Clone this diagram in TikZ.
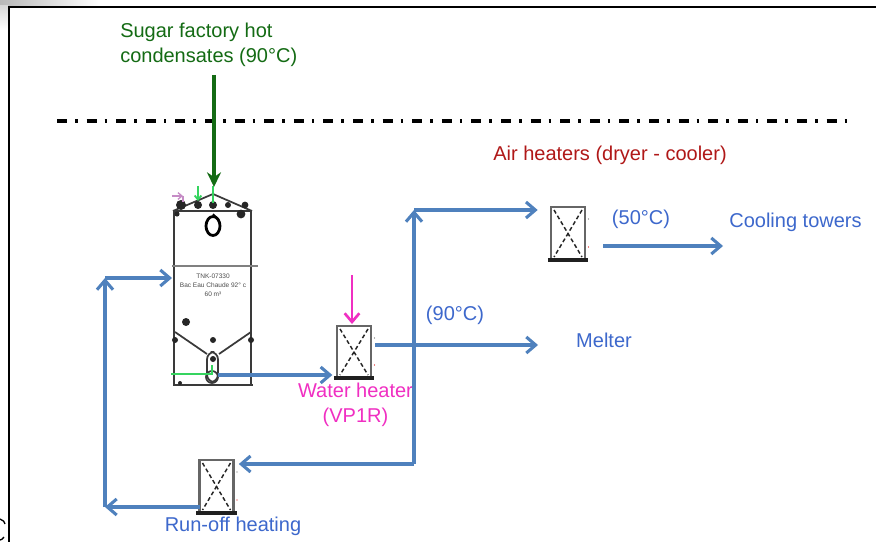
\documentclass[tikz,border=0pt]{standalone}
\usepackage{fontspec}
\setmainfont{Liberation Sans}
\usetikzlibrary{arrows.meta,shapes.geometric}
\definecolor{pipeblue}{HTML}{4F81BD}
\definecolor{txtblue}{HTML}{3D68CC}
\definecolor{hotgreen}{HTML}{146B14}
\definecolor{brightgreen}{HTML}{35D45F}
\definecolor{pinkm}{HTML}{F02FC2}
\definecolor{airred}{HTML}{B01818}
\definecolor{tankgray}{HTML}{3A3A3A}
\tikzset{
  x=0.75pt,y=-0.75pt,
  pipe/.style={draw=pipeblue,line width=2.3pt,-{Straight Barb[length=7pt,width=12pt,line width=2.3pt]}},
  pipeplain/.style={draw=pipeblue,line width=2.3pt},
  xchg/.style={rectangle,draw=gray!80!black,line width=1.9pt,minimum width=25.5pt,inner sep=0pt,outer sep=0pt},
  xcross/.style={draw=gray!30!black,line width=1.1pt,densely dashed},
  xbase/.style={draw=gray!25!black,line width=2.3pt},
  lbl/.style={inner sep=0pt,font=\fontsize{15pt}{18.6pt}\selectfont},
  tinytxt/.style={inner sep=0pt,align=center,text=black!70,font=\fontsize{4.9pt}{6.8pt}\selectfont},
  tankline/.style={draw=tankgray,line width=1.3pt},
  blob/.style={fill=black!85,draw=none},
  frameline/.style={draw=black,line width=1.6pt},
}
\newcommand{\crossin}[1]{%
  \draw[xcross] ([shift={(3,3)}]#1.north west) -- ([shift={(-3,-3)}]#1.south east);
  \draw[xcross] ([shift={(-3,3)}]#1.north east) -- ([shift={(3,-3)}]#1.south west);
  \draw[xbase] ([xshift=-2.4pt]#1.south west) -- ([xshift=2.4pt]#1.south east);
  \fill[black!60] ([shift={(3.5,12)}]#1.north east) circle (.4pt);
  \fill[red!85!black] ([shift={(3.5,-13)}]#1.south east) circle (.45pt);
}
\begin{document}
\begin{tikzpicture}
\useasboundingbox (0,0) rectangle (876,542);
\fill[white] (0,0) rectangle (876,542);
% screen residue
\shade[left color=gray!55,right color=white] (0,0) rectangle (100,6);
\shade[top color=gray!30,bottom color=white] (0,6) rectangle (8,30);
\draw[frameline] (9,542) -- (9,7) -- (876,7);
\draw[black,line width=1pt] (0,519) .. controls (3,520) and (5,522) .. (5,524);
\draw[black,line width=1pt] (4,537) .. controls (3,539) and (1,540) .. (0,540);
% dash-dot boundary
\coordinate (bndl) at (57,121);
\coordinate (bndr) at (848,121);
\draw[black,line width=2.4pt,dash pattern=on 7.5pt off 6pt on 2pt off 6.7pt] (bndl) -- (bndr);
% tank
\node[rectangle,draw=tankgray,line width=1.4pt,minimum width=57.75pt,minimum height=130.5pt,inner sep=0pt,outer sep=0pt] (tank) at (212.5,298) {};
\draw[draw=gray,line width=.9pt] (172,266) -- (258,266);
\draw[tankline] (173,211) -- (213,194) -- (252,211);
\draw[tankline,line width=1.8pt] (173,211) -- (252,211);
\draw[tankline,line width=1.8pt] (173,385) -- (253,385);
\draw[tankline] (175,332) -- (207,354);
\draw[tankline] (251,332) -- (219,354);
\draw[black,line width=2.1pt] (213,226) ellipse (7 and 9.5);
\draw[black,line width=1.1pt] (213,214) -- (219,220);
\draw[tankline,rounded corners=5.5pt] (207,352) rectangle (218,382);
\draw[tankline] (212,377) circle (6);
\fill[blob] (181,205) circle (5);
\foreach \p/\r in {198/4,213/4,228/3,245/3.4}{\fill[blob] (\p,205) circle (\r);}
\fill[blob] (241,214) circle (4.4);
\fill[blob] (177,214) circle (2.6);
\foreach \p/\q in {213/340,175/340,251/340,213/359}{\fill[blob] (\p,\q) circle (3);}
\fill[blob] (186,322) circle (4);
\fill[blob] (180,383) circle (2);
\node[tinytxt] (tanktext) at (213,285.5) {TNK-07330\\Bac Eau Chaude 92° c\\60 m³};
\draw[brightgreen,line width=1.4pt] (171,374) -- (212,374) -- (212,365);
\draw[brightgreen,line width=1.4pt,-{Straight Barb[length=3pt,width=5pt]}] (198,186) -- (198,201);
\draw[brightgreen,line width=1.6pt] (213,186) -- (213,203);
\draw[violet!45!white,line width=1pt,-{Straight Barb[length=3pt,width=5pt]}] (172,196) -- (183,196);
\draw[violet!45!white,line width=1pt] (183,196) -- (183,202);
% exchangers
\node[xchg,minimum height=39.75pt] (hxair) at (568,233.5) {};
\node[xchg,minimum height=39pt] (hxwater) at (354,352) {};
\node[xchg,minimum height=39.75pt] (hxrun) at (216.5,486.5) {};
\crossin{hxair}\crossin{hxwater}\crossin{hxrun}
% labels
\node[lbl,text=hotgreen,align=left,anchor=north west] (sugar) at (120,22.5) {Sugar factory hot\\condensates (90°C)};
\node[lbl,text=airred] (air) at (610,155.5) {Air heaters (dryer - cooler)};
\node[lbl,text=txtblue] (t50) at (641,219.5) {(50°C)};
\node[lbl,text=txtblue] (cool) at (795.5,222.5) {Cooling towers};
\node[lbl,text=txtblue] (t90) at (455,315.5) {(90°C)};
\node[lbl,text=txtblue] (melter) at (604,340.5) {Melter};
\node[lbl,text=pinkm,align=center] (wh) at (355.5,404.5) {Water heater\\(VP1R)};
\node[lbl,text=txtblue] (runoff) at (233,526.5) {Run-off heating};
% free ends
\coordinate (sugarin) at (214,75);
\coordinate (tankroof) at (214,187);
\coordinate (steamin) at (352,275);
\coordinate (tankout) at (218,375);
\coordinate (tankinend) at (172,278);
\coordinate (leftbot) at (105,507);
\coordinate (lefttop) at (105,278);
\coordinate (mainbot) at (414,464);
\coordinate (maintop) at (414,210);
\coordinate (wateroutstart) at (375,345);
\coordinate (melterend) at (538,345);
\coordinate (airoutstart) at (603,246);
\coordinate (airoutend) at (723,246);
% connectors
\draw[draw=hotgreen,line width=2.4pt,-{Stealth[length=11pt,width=10.5pt]}] (sugarin) -- (tankroof);
\draw[draw=pinkm,line width=2pt,-{Straight Barb[length=6.5pt,width=11pt,line width=2pt]}] (steamin) -- ([yshift=1.5pt]hxwater.north -| steamin);
\draw[pipe] (tankout) -- ([xshift=-3.5pt]hxwater.south west |- tankout);
\draw[pipe] (wateroutstart) -- (melterend);
\draw[pipeplain] (mainbot) -- (414,300);
\draw[pipe] (414,300) -- (maintop);
\draw[pipe] (maintop) -- ([xshift=-10pt]hxair.west |- maintop);
\draw[pipe] (airoutstart) -- (airoutend);
\draw[pipe] (mainbot) -- ([xshift=4pt]hxrun.east |- mainbot);
\draw[pipe] (hxrun.west |- leftbot) -- (leftbot);
\draw[pipe] (leftbot) -- (lefttop);
\draw[pipe] (lefttop) -- (tankinend);
\end{tikzpicture}
\end{document}
